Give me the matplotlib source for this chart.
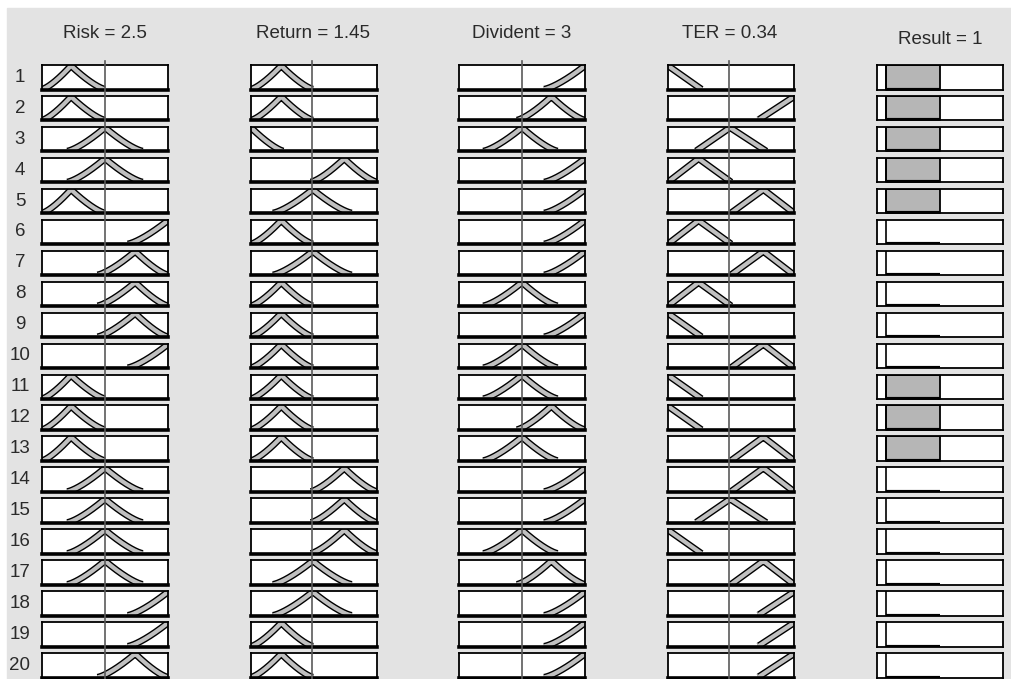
import numpy as np
import matplotlib.pyplot as plt
import matplotlib.patheffects as pe

# ----------------------------------------------------------
# DATA
# ----------------------------------------------------------

rule_ids = list(range(1, 21))

input_names = ["Risk", "Return", "Divident", "TER"]
input_values = [2.5, 1.45, 3, 0.34]
input_ranges = [(0, 5), (0, 3), (0, 6), (0, 0.7)]

# membership functions per input (in the input's own units)
risk_mfs = {
    "L": ("tri", 0.0, 1.15, 2.5),
    "C": ("tri", 1.0, 2.5, 4.0),
    "D": ("tri", 2.2, 3.7, 5.0),
    "E": ("rise", 3.4, 5.0),
}
return_mfs = {
    "A": ("fall", 0.0, 0.78),
    "L": ("tri", 0.0, 0.72, 1.48),
    "C": ("tri", 0.52, 1.47, 2.4),
    "D": ("tri", 1.42, 2.22, 3.0),
}
divident_mfs = {
    "C": ("tri", 1.15, 3.0, 4.7),
    "D": ("tri", 2.75, 4.4, 6.0),
    "E": ("rise", 4.05, 6.0),
}
ter_mfs = {
    "A": ("fall", 0.0, 0.185),
    "B": ("tri", 0.0, 0.17, 0.35),
    "C": ("tri", 0.155, 0.345, 0.545),
    "D": ("tri", 0.35, 0.53, 0.7),
    "E": ("rise", 0.5, 0.7),
}

risk_rule = ["L", "L", "C", "C", "L", "E", "D", "D", "D", "E",
             "L", "L", "L", "C", "C", "C", "C", "E", "E", "D"]
return_rule = ["L", "L", "A", "D", "C", "L", "C", "L", "L", "L",
               "L", "L", "L", "D", "D", "D", "C", "C", "L", "L"]
divident_rule = ["E", "D", "C", "E", "E", "E", "E", "C", "E", "C",
                 "C", "D", "C", "E", "E", "C", "D", "E", "E", "E"]
ter_rule = ["A", "E", "C", "B", "D", "B", "D", "B", "A", "D",
            "A", "A", "D", "D", "C", "A", "D", "E", "E", "E"]

result_value = 1
result_range = (0, 14)
result_mf = (1, 7)
result_strength = [1, 1, 1, 1, 1, 0, 0, 0, 0, 0,
                   1, 1, 1, 0, 0, 0, 0, 0, 0, 0]

all_mfs = [risk_mfs, return_mfs, divident_mfs, ter_mfs]
all_rules = [risk_rule, return_rule, divident_rule, ter_rule]
curve_power = [1.35, 1.35, 1.35, 1.0]

# ----------------------------------------------------------
# LAYOUT (pixels)
# ----------------------------------------------------------

W, H = 1011, 679
DPI = 100

col_left = [42, 251, 459, 668, 877]
box_w = 126
row_top0 = 65
row_pitch = 30.95
box_h = 24.5

title_x = [105, 313, 522, 730, 940]
title_y = [33, 33, 33, 33, 40]

BG = "#e3e3e3"
BAND = "#c0c0c0"
TXT = "#2a2a2a"


def mf_eval(x, mf):
    kind = mf[0]
    if kind == "tri":
        a, b, c = mf[1:]
        y = np.minimum((x - a) / (b - a), (c - x) / (c - b))
    elif kind == "rise":
        a, b = mf[1:]
        y = (x - a) / (b - a)
    else:
        a, b = mf[1:]
        y = (b - x) / (b - a)
    return np.clip(y, 0, 1)


def px_axes(fig, left, top, w, h):
    return fig.add_axes([left / W, 1 - (top + h) / H, w / W, h / H])


plt.rcParams["font.family"] = ["Liberation Sans", "DejaVu Sans"]

fig = plt.figure(figsize=(W / DPI, H / DPI), dpi=DPI, facecolor="white")

# background panel
bg = fig.add_axes([0, 0, 1, 1])
bg.set_xlim(0, W)
bg.set_ylim(H, 0)
bg.axis("off")
bg.add_patch(plt.Rectangle((7, 8), W - 7, H - 8, color=BG, zorder=0))

# titles
titles = [f"{n} = {v:g}" for n, v in zip(input_names, input_values)]
titles.append(f"Result = {result_value:g}")
for t, tx, ty in zip(titles, title_x, title_y):
    bg.text(tx, ty, t, ha="center", va="center", fontsize=13.5, color=TXT)

# rule numbers
for i, r in enumerate(rule_ids):
    yc = row_top0 + i * row_pitch + box_h / 2
    bg.text(20, yc, str(r), ha="center", va="center", fontsize=13.5, color=TXT)

# input boxes
for c in range(4):
    lo, hi = input_ranges[c]
    x = np.linspace(lo, hi, 600)
    for i in range(len(rule_ids)):
        top = row_top0 + i * row_pitch
        ax = px_axes(fig, col_left[c], top, box_w, box_h)
        ax.set_facecolor("white")
        ax.set_xlim(lo, hi)
        ax.set_ylim(-0.01, 1.03)
        ax.set_xticks([])
        ax.set_yticks([])
        for s in ["top", "left", "right"]:
            ax.spines[s].set_linewidth(1.3)
            ax.spines[s].set_color("black")
        ax.spines["bottom"].set_linewidth(2.6)
        ax.spines["bottom"].set_color("black")

        mu = mf_eval(x, all_mfs[c][all_rules[c][i]]) ** curve_power[c]
        idx = np.where(mu > 0)[0]
        i0 = max(idx[0] - 1, 0)
        i1 = min(idx[-1] + 1, len(x) - 1)
        ax.plot(x[i0:i1 + 1], mu[i0:i1 + 1], color=BAND, lw=3.0,
                solid_capstyle="butt", solid_joinstyle="round",
                path_effects=[pe.Stroke(linewidth=5.0, foreground="black"),
                              pe.Normal()])

# output boxes
for i in range(len(rule_ids)):
    top = row_top0 + i * row_pitch
    ax = px_axes(fig, col_left[4], top, box_w, box_h)
    ax.set_facecolor("white")
    ax.set_xlim(*result_range)
    ax.set_ylim(0, 1)
    ax.set_xticks([])
    ax.set_yticks([])
    for s in ax.spines.values():
        s.set_linewidth(1.3)
        s.set_color("black")
    ax.axvline(result_value, color="black", lw=1.2)
    strength = result_strength[i]
    if strength > 0:
        ax.fill_between(result_mf, 0, strength, facecolor="#b6b6b6",
                        edgecolor="black", lw=1.3)
    ax.plot(result_mf, [0, 0], color="black", lw=3.0, solid_capstyle="butt")

# input value lines across all rules
ov = fig.add_axes([0, 0, 1, 1])
ov.set_xlim(0, W)
ov.set_ylim(H, 0)
ov.axis("off")
ov.patch.set_alpha(0)
for c in range(4):
    lo, hi = input_ranges[c]
    xv = col_left[c] + (input_values[c] - lo) / (hi - lo) * box_w
    ov.plot([xv, xv], [61, H], color="#5a5a5a", lw=1.2)

fig.savefig("out.png", dpi=DPI, facecolor=fig.get_facecolor())
